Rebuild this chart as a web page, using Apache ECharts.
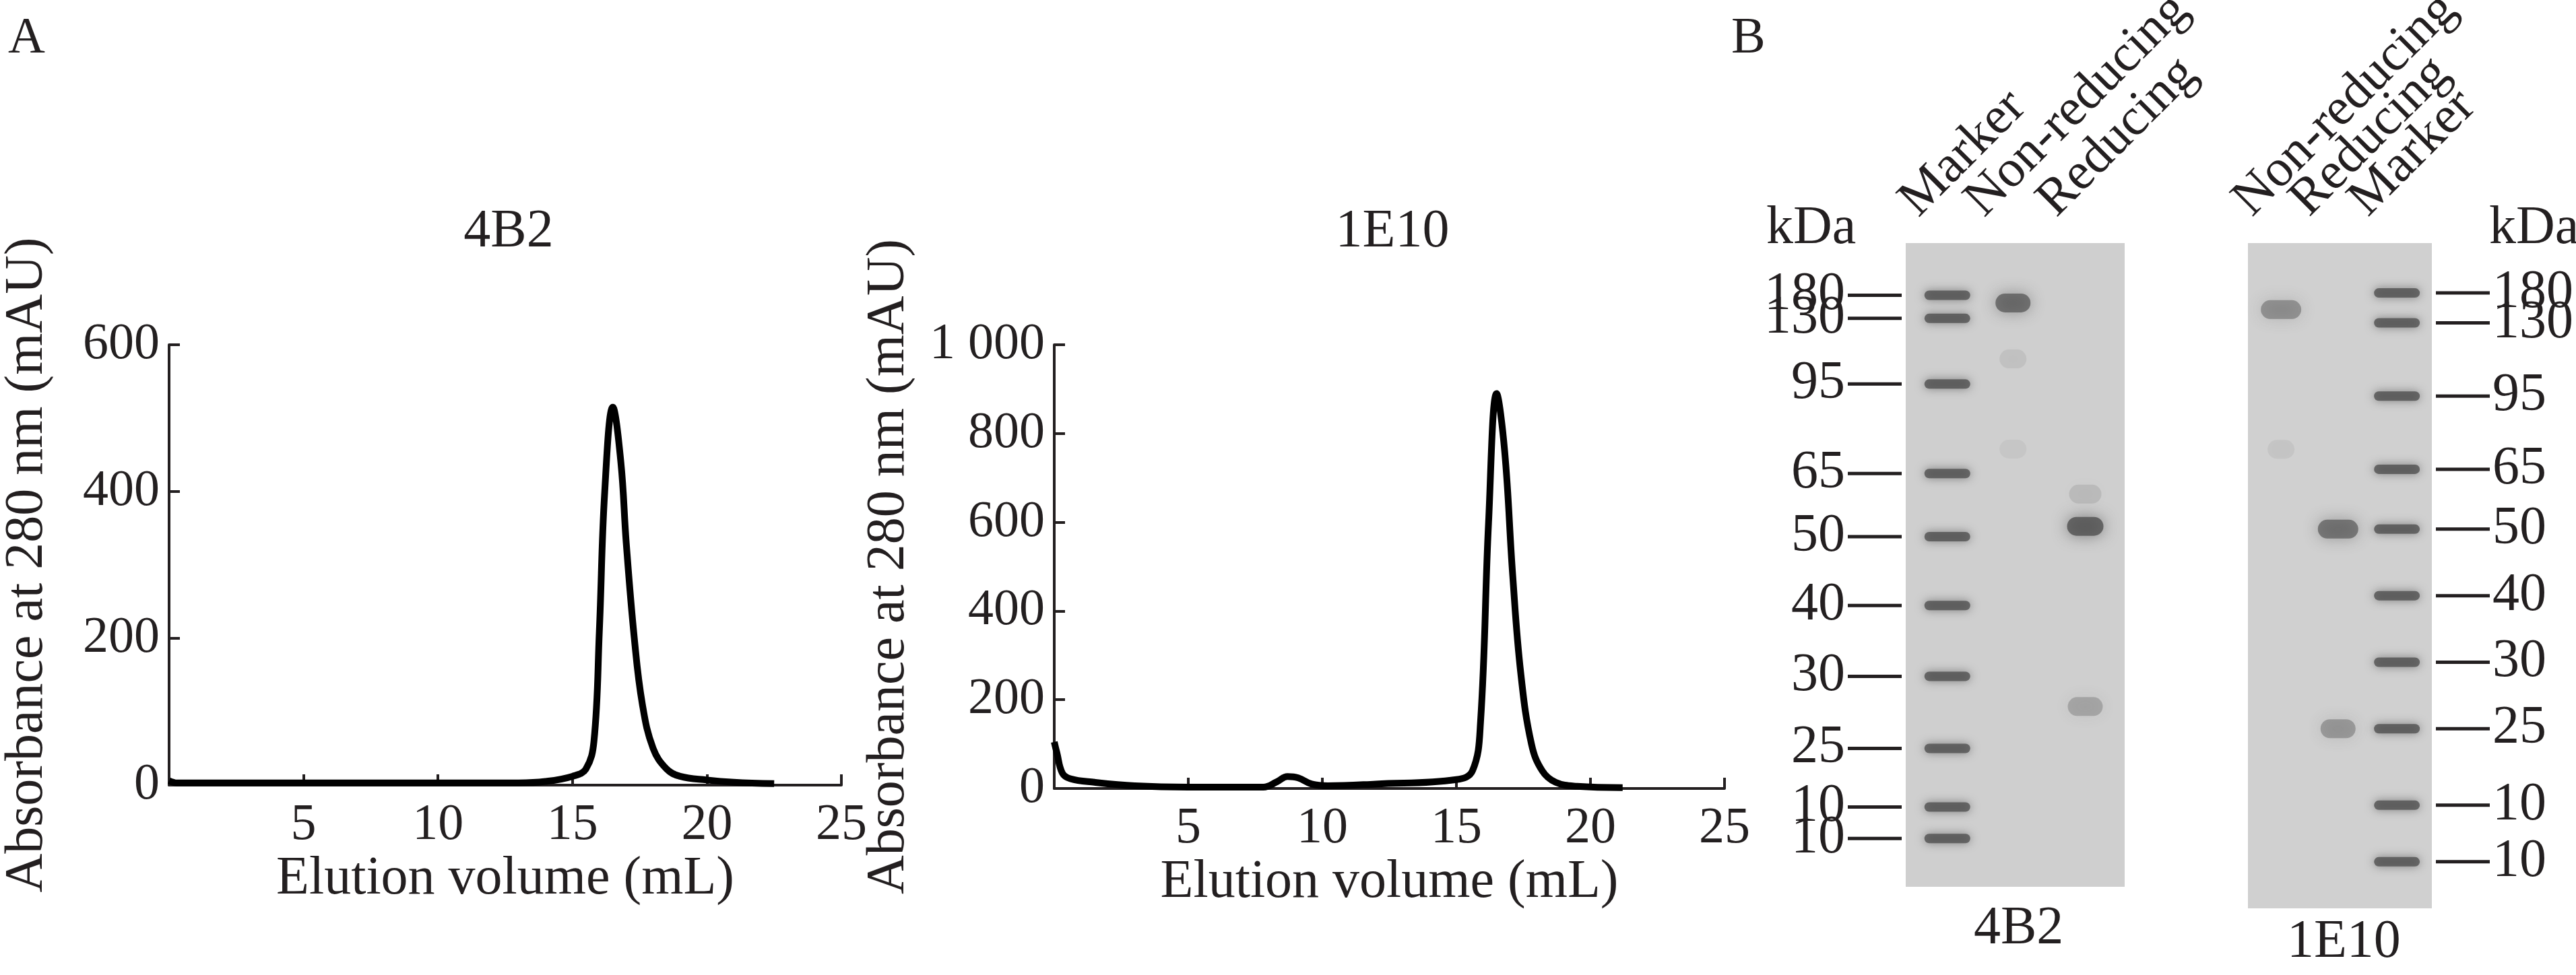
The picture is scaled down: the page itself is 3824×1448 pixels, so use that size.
<!DOCTYPE html>
<html><head><meta charset="utf-8">
<script src="https://cdn.jsdelivr.net/npm/echarts@6/dist/echarts.min.js"></script>
<style>html,body{margin:0;background:#fff}#c{width:3824px;height:1448px}</style>
</head><body><div id="c"></div>
<script>
// 色谱数据 [体积 mL, 吸光度 mAU]
const curve4B2 = [[0,6],[0.3,3],[2,3],[6,3],[10,3],[13,3],[14,5],[15,12],[15.5,22],[15.8,60],[16,210],[16.2,400],[16.5,515],[16.8,440],[17,330],[17.3,200],[17.6,110],[18,50],[18.5,22],[19,12],[20,7],[21,4],[22.5,2]];
const curve1E10 = [[0,105],[0.1,80],[0.3,35],[0.6,22],[1.5,14],[3,6],[5,3],[7.8,3],[8.3,15],[8.7,27],[9.1,24],[9.6,10],[10.2,6],[12,10],[15,20],[15.6,40],[15.9,150],[16.2,600],[16.5,890],[16.8,760],[17.1,480],[17.4,260],[17.8,100],[18.2,40],[18.7,14],[19.5,5],[21.2,2]];
// 凝胶：泳道位置(0-1)、迁移位置(0-1)、强度、宽度
const marker4B2 = [0.081,0.117,0.219,0.358,0.456,0.563,0.673,0.785,0.876,0.925];
const marker1E10 = [0.075,0.12,0.23,0.34,0.43,0.53,0.63,0.73,0.845,0.93];
const kdaLabels = ['180','130','95','65','50','40','30','25','10','10'];
const bands4B2 = [[0.49,0.093,0.7,0.26],[0.49,0.18,0.1,0.2],[0.49,0.32,0.07,0.2],[0.82,0.44,0.8,0.27],[0.82,0.39,0.15,0.24],[0.82,0.72,0.3,0.26]];
const bands1E10 = [[0.18,0.10,0.45,0.3],[0.18,0.31,0.08,0.2],[0.49,0.43,0.65,0.3],[0.49,0.73,0.4,0.26]];
const lanes4B2 = [[0.19,'Marker'],[0.49,'Non-reducing'],[0.82,'Reducing']];
const lanes1E10 = [[0.18,'Non-reducing'],[0.49,'Reducing'],[0.81,'Marker']];

const F = '"Liberation Serif","DejaVu Serif",serif';
const ink = '#231f20';

function chromAxes(gi, maxY, step, gap) {
    return {
        x: {type:'value', gridIndex:gi, min:0, max:25, interval:5,
            axisLine:{lineStyle:{color:ink,width:4}}, axisTick:{inside:true,length:16,lineStyle:{width:4,color:ink}},
            axisLabel:{fontFamily:F,fontSize:76,color:ink,margin:22,formatter:v=>v===0?'':v},
            splitLine:{show:false}, name:'Elution volume (mL)', nameLocation:'middle', nameGap:100,
            nameTextStyle:{fontFamily:F,fontSize:80,color:ink}},
        y: {type:'value', gridIndex:gi, min:0, max:maxY, interval:step,
            axisLine:{show:true,lineStyle:{color:ink,width:4}}, axisTick:{inside:true,length:16,lineStyle:{width:4,color:ink}},
            axisLabel:{fontFamily:F,fontSize:76,color:ink,margin:14,formatter:v=>v>=1000?'1 000':v},
            splitLine:{show:false}, name:'Absorbance at 280 nm (mAU)', nameLocation:'middle', nameGap:gap,
            nameTextStyle:{fontFamily:F,fontSize:80,color:ink}}
    };
}
const a1 = chromAxes(0,600,200,170), a2 = chromAxes(1,1000,200,205);

function gelAxes(gi){
    return {x:{type:'value',gridIndex:gi,min:0,max:1,show:false},
            y:{type:'value',gridIndex:gi,min:0,max:1,inverse:true,show:false}};
}
const g1 = gelAxes(2), g2 = gelAxes(3);

function bandSeries(xi, data, w) {
    return {type:'custom', xAxisIndex:xi, yAxisIndex:xi, data:data, silent:true,
        renderItem:function(params, api){
            const p = api.coord([api.value(0), api.value(1)]);
            const width = api.value(3) * w;
            const c = 'rgba(80,80,80,'+api.value(2)+')';
            return {type:'rect', shape:{x:p[0]-width/2, y:p[1]-14, width:width, height:28, r:14},
                style:{fill:c, shadowBlur:22, shadowColor:c}};
        }};
}
function markerSeries(xi, lane, ys, w, side) {
    return {type:'custom', xAxisIndex:xi, yAxisIndex:xi, silent:true,
        data: ys.map((y,i)=>[lane, y]),
        renderItem:function(params, api){
            const p = api.coord([api.value(0), api.value(1)]);
            const edge = api.coord([side==='left'?0:1, api.value(1)]);
            const lab = kdaLabels[params.dataIndex];
            const dir = side==='left'?-1:1;
            return {type:'group', children:[
                {type:'rect', shape:{x:p[0]-w*0.17, y:p[1]-7, width:w*0.34, height:14, r:7},
                 style:{fill:'rgba(75,75,75,0.75)', shadowBlur:14, shadowColor:'rgba(75,75,75,0.8)'}},
                {type:'line', shape:{x1:edge[0]+dir*6, y1:p[1], x2:edge[0]+dir*86, y2:p[1]}, style:{stroke:ink, lineWidth:5}},
                {type:'text', x:edge[0]+dir*90, y:p[1], style:{text:lab, fontFamily:F, fontSize:80, fill:ink,
                 align: side==='left'?'right':'left', verticalAlign:'middle'}}
            ]};
        }};
}
function laneLabels(xi, lanes) {
    return {type:'custom', xAxisIndex:xi, yAxisIndex:xi, silent:true, data:lanes.map(l=>[l[0],-0.025]),
        renderItem:function(params, api){
            const p = api.coord([api.value(0), api.value(1)]);
            return {type:'text', x:p[0]-30, y:p[1], rotation:Math.PI/4,
                style:{text:lanes[params.dataIndex][1], fontFamily:F, fontSize:78, fill:ink, align:'left', verticalAlign:'bottom'}};
        }};
}

const chart = echarts.init(document.getElementById('c'), null, {renderer:'canvas'});
chart.setOption({
    backgroundColor:'#fff', animation:false,
    title:[
        {text:'4B2', left:750, top:300, textAlign:'center', textStyle:{fontFamily:F,fontSize:80,fontWeight:'normal',color:ink}},
        {text:'1E10', left:2062, top:300, textAlign:'center', textStyle:{fontFamily:F,fontSize:80,fontWeight:'normal',color:ink}}
    ],
    graphic:[
        {type:'text', left:12, top:20, style:{text:'A', fontFamily:F, fontSize:76, fill:ink}},
        {type:'text', left:2570, top:20, style:{text:'B', fontFamily:F, fontSize:76, fill:ink}},
        {type:'text', left:2622, top:300, style:{text:'kDa', fontFamily:F, fontSize:80, fill:ink}},
        {type:'text', left:3695, top:300, style:{text:'kDa', fontFamily:F, fontSize:80, fill:ink}},
        {type:'text', left:2930, top:1340, style:{text:'4B2', fontFamily:F, fontSize:80, fill:ink}},
        {type:'text', left:3395, top:1360, style:{text:'1E10', fontFamily:F, fontSize:80, fill:ink}}
    ],
    grid:[
        {left:251, right:2575, top:512, bottom:282},
        {left:1565, right:1264, top:512, bottom:277},
        {left:2829, width:325, top:361, height:956, show:true, backgroundColor:'#cfcfcf', borderWidth:0},
        {left:3337, width:273, top:361, height:988, show:true, backgroundColor:'#d0d0d0', borderWidth:0}
    ],
    xAxis:[a1.x, a2.x, g1.x, g2.x],
    yAxis:[a1.y, a2.y, g1.y, g2.y],
    series:[
        {type:'line', xAxisIndex:0, yAxisIndex:0, data:curve4B2, smooth:0.4, showSymbol:false, lineStyle:{color:'#000',width:10}},
        {type:'line', xAxisIndex:1, yAxisIndex:1, data:curve1E10, smooth:0.4, showSymbol:false, lineStyle:{color:'#000',width:10}},
        bandSeries(2, bands4B2, 200),
        bandSeries(3, bands1E10, 200),
        markerSeries(2, 0.19, marker4B2, 200, 'left'),
        markerSeries(3, 0.81, marker1E10, 200, 'right'),
        laneLabels(2, lanes4B2),
        laneLabels(3, lanes1E10)
    ]
});
</script></body></html>
